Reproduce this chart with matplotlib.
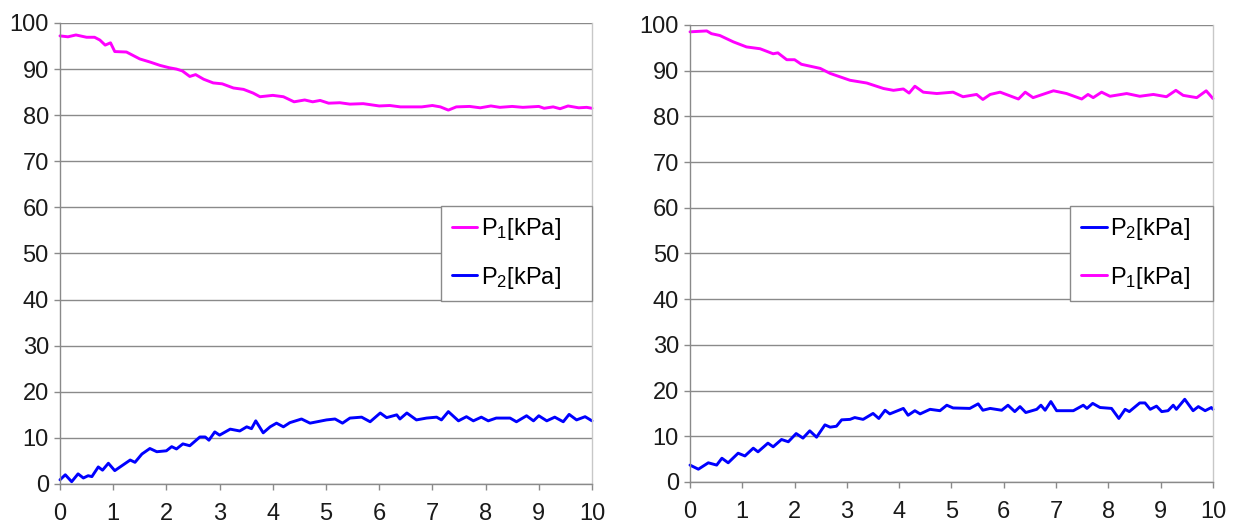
import matplotlib
matplotlib.use('Agg')
import matplotlib.pyplot as plt

plt.rcParams['font.family'] = ['Liberation Sans', 'DejaVu Sans']
plt.rcParams['mathtext.fontset'] = 'custom'
plt.rcParams['mathtext.rm'] = 'Liberation Sans'
plt.rcParams['mathtext.it'] = 'Liberation Sans'

# left chart, P1
leftP1_x = [0.0, 0.15, 0.3, 0.5, 0.65, 0.75, 0.85, 0.95, 1.03, 1.25, 1.5, 1.7, 1.88, 2.05, 2.19, 2.3,
            2.44, 2.55, 2.7, 2.88, 3.05, 3.26, 3.45, 3.63, 3.76, 4.0, 4.2, 4.4, 4.6, 4.75, 4.89,
            5.05, 5.26, 5.45, 5.7, 6.0, 6.2, 6.4, 6.8, 7.0, 7.15, 7.3, 7.45, 7.7, 7.9, 8.1, 8.27,
            8.5, 8.7, 9.0, 9.1, 9.27, 9.4, 9.55, 9.75, 9.9, 10.0]
leftP1_y = [97.2, 97.0, 97.4, 96.9, 96.9, 96.3, 95.2, 95.7, 93.8, 93.7, 92.2, 91.5, 90.8, 90.3, 90.0, 89.6,
            88.4, 88.8, 87.8, 87.0, 86.8, 85.9, 85.6, 84.8, 84.0, 84.3, 84.0, 82.9, 83.3, 82.9, 83.2,
            82.6, 82.7, 82.4, 82.5, 82.0, 82.1, 81.8, 81.8, 82.1, 81.8, 81.1, 81.8, 81.9, 81.6, 82.0, 81.7,
            81.9, 81.7, 81.9, 81.5, 81.8, 81.4, 82.0, 81.6, 81.7, 81.5]

# left chart, P2
leftP2_x = [0.0, 0.1, 0.22, 0.34, 0.44, 0.53, 0.6, 0.72, 0.8, 0.91, 1.03, 1.32, 1.41, 1.54, 1.69, 1.82,
            2.0, 2.1, 2.19, 2.31, 2.44, 2.63, 2.73, 2.8, 2.91, 3.0, 3.2, 3.38, 3.51, 3.6, 3.68, 3.82,
            3.95, 4.07, 4.2, 4.32, 4.54, 4.7, 5.01, 5.17, 5.31, 5.45, 5.67, 5.83, 6.02, 6.14, 6.33,
            6.39, 6.52, 6.7, 6.89, 7.08, 7.17, 7.3, 7.49, 7.64, 7.77, 7.92, 8.05, 8.2, 8.46, 8.58,
            8.77, 8.9, 9.0, 9.15, 9.3, 9.46, 9.57, 9.71, 9.87, 10.0]
leftP2_y = [0.9, 2.0, 0.5, 2.2, 1.3, 1.8, 1.6, 3.7, 3.0, 4.5, 2.9, 5.2, 4.7, 6.5, 7.7, 7.0,
            7.2, 8.1, 7.6, 8.7, 8.3, 10.2, 10.2, 9.5, 11.3, 10.6, 11.9, 11.5, 12.4, 12.0, 13.7, 11.1,
            12.4, 13.2, 12.4, 13.3, 14.1, 13.2, 13.9, 14.1, 13.2, 14.3, 14.5, 13.5, 15.4, 14.4, 15.0,
            14.1, 15.4, 13.9, 14.3, 14.5, 13.9, 15.7, 13.7, 14.6, 13.7, 14.5, 13.7, 14.3, 14.3, 13.5,
            14.8, 13.7, 14.8, 13.7, 14.5, 13.5, 15.1, 13.9, 14.6, 13.7]

# right chart, P1
rightP1_x = [0.0, 0.32, 0.41, 0.57, 0.83, 1.08, 1.34, 1.59, 1.68, 1.85, 2.0, 2.13, 2.49, 2.68, 3.06,
             3.38, 3.7, 3.89, 4.08, 4.19, 4.3, 4.46, 4.72, 5.03, 5.22, 5.48, 5.6, 5.74, 5.93, 6.28,
             6.41, 6.56, 6.95, 7.2, 7.49, 7.61, 7.71, 7.87, 8.03, 8.35, 8.6, 8.86, 9.11, 9.29, 9.43,
             9.69, 9.87, 10.0]
rightP1_y = [98.5, 98.7, 98.1, 97.7, 96.3, 95.2, 94.8, 93.7, 93.9, 92.4, 92.4, 91.4, 90.5, 89.4, 87.9,
             87.3, 86.1, 85.7, 86.0, 85.1, 86.6, 85.3, 85.0, 85.3, 84.3, 84.8, 83.7, 84.8, 85.3, 83.8,
             85.3, 84.1, 85.6, 85.0, 83.8, 84.8, 84.1, 85.3, 84.4, 85.0, 84.4, 84.8, 84.3, 85.7, 84.6,
             84.1, 85.6, 83.9]

# right chart, P2
rightP2_x = [0.0, 0.16, 0.35, 0.51, 0.61, 0.73, 0.92, 1.05, 1.21, 1.3, 1.49, 1.59, 1.75, 1.88, 2.03,
             2.16, 2.29, 2.42, 2.58, 2.68, 2.8, 2.9, 3.06, 3.15, 3.31, 3.5, 3.61, 3.73, 3.82, 4.08,
             4.17, 4.3, 4.4, 4.59, 4.78, 4.91, 5.03, 5.35, 5.51, 5.6, 5.74, 5.96, 6.08, 6.21, 6.31,
             6.42, 6.63, 6.71, 6.79, 6.9, 7.01, 7.33, 7.52, 7.59, 7.7, 7.84, 8.06, 8.2, 8.32, 8.4,
             8.6, 8.7, 8.8, 8.92, 9.02, 9.14, 9.24, 9.3, 9.46, 9.62, 9.72, 9.85, 9.97, 10.0]
rightP2_y = [3.7, 2.8, 4.2, 3.7, 5.2, 4.2, 6.3, 5.7, 7.4, 6.6, 8.5, 7.7, 9.3, 8.8, 10.6,
             9.6, 11.2, 9.8, 12.5, 12.0, 12.2, 13.6, 13.7, 14.1, 13.7, 15.0, 13.9, 15.7, 14.9, 16.1,
             14.6, 15.6, 14.9, 15.9, 15.6, 16.8, 16.2, 16.1, 17.1, 15.7, 16.1, 15.7, 16.8, 15.4, 16.5,
             15.2, 15.9, 16.8, 15.7, 17.6, 15.6, 15.6, 16.8, 16.1, 17.2, 16.3, 16.1, 13.9, 15.9, 15.4,
             17.3, 17.3, 15.9, 16.6, 15.4, 15.6, 16.8, 15.9, 18.1, 15.6, 16.5, 15.6, 16.3, 15.9]

label1 = r'P$_{1}$[kPa]'
label2 = r'P$_{2}$[kPa]'
magenta = '#ff00ff'
blue = '#0000ff'
gridGray = '#8a8a8a'

fig = plt.figure(figsize=(12.39, 5.27), dpi=100)
axLeft = fig.add_axes([0.0484, 0.0816, 0.4294, 0.8748])
axRight = fig.add_axes([0.5569, 0.0854, 0.4221, 0.8672])


def styleAxes(ax):
    ax.set_xlim(0, 10)
    ax.set_ylim(0, 100)
    ax.set_xticks(range(0, 11))
    ax.set_yticks(range(0, 101, 10))
    ax.grid(axis='y', color=gridGray, linewidth=1.0)
    ax.set_axisbelow(True)
    ax.spines['top'].set_visible(False)
    ax.spines['right'].set_color('#c8c8c8')
    ax.spines['left'].set_color(gridGray)
    ax.spines['bottom'].set_color(gridGray)
    for s in ax.spines.values():
        s.set_linewidth(1.0)
    ax.tick_params(axis='both', direction='out', length=4, width=1.0, color=gridGray,
                   labelsize=17, labelcolor='#1a1a1a')
    ax.tick_params(axis='x', pad=10)
    ax.tick_params(axis='y', pad=4)


def addLegend(ax, handles, labels, left):
    leg = ax.legend(handles, labels, loc='center', bbox_to_anchor=(left, 0.395, 1.0 - left, 0.21),
                    mode='expand', fontsize=17, frameon=True, fancybox=False, framealpha=1.0,
                    edgecolor='#8a8a8a', borderpad=0.45, labelspacing=0.95, handlelength=1.1,
                    handletextpad=0.15, borderaxespad=0.0)
    leg.get_frame().set_linewidth(1.0)


lineKw = dict(linewidth=2.1, clip_on=False, solid_joinstyle='round', solid_capstyle='round')

styleAxes(axLeft)
l1, = axLeft.plot(leftP1_x, leftP1_y, color=magenta, **lineKw)
l2, = axLeft.plot(leftP2_x, leftP2_y, color=blue, **lineKw)
addLegend(axLeft, [l1, l2], [label1, label2], 0.716)

styleAxes(axRight)
r1, = axRight.plot(rightP1_x, rightP1_y, color=magenta, **lineKw)
r2, = axRight.plot(rightP2_x, rightP2_y, color=blue, **lineKw)
addLegend(axRight, [r2, r1], [label2, label1], 0.727)

fig.savefig('out.png', dpi=100)
